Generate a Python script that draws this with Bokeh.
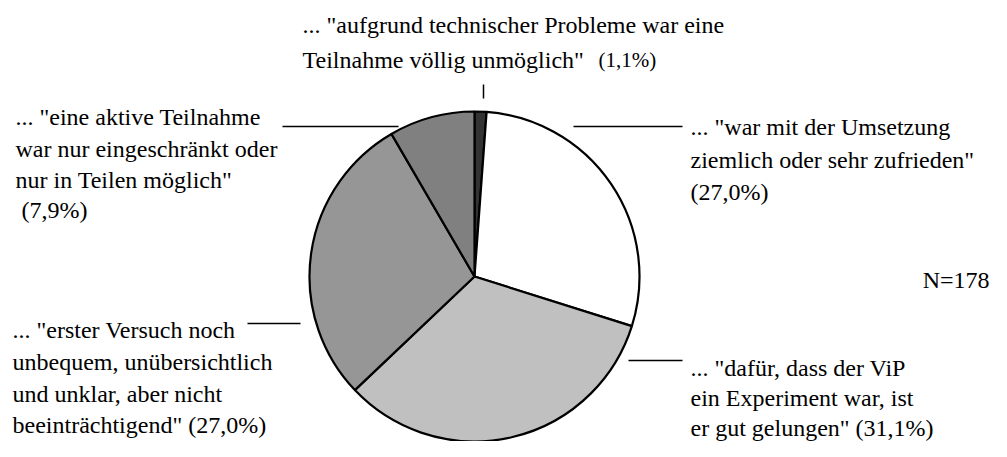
import numpy as np
from bokeh.plotting import figure
from bokeh.models import Range1d, ColumnDataSource
from bokeh.embed import file_html
from bokeh.resources import INLINE
from bokeh.core.properties import value

# ---- data ----
categories = ["unmöglich", "zufrieden", "gut gelungen", "erster Versuch", "eingeschränkt"]
values = [1.1, 27.0, 31.1, 27.0, 7.9]
colors = ["#333333", "#ffffff", "#c0c0c0", "#969696", "#808080"]

label_lines = [
    ['... "aufgrund technischer Probleme war eine', 'Teilnahme völlig unmöglich"'],
    ['... "war mit der Umsetzung', 'ziemlich oder sehr zufrieden"', '(27,0%)'],
    ['... "dafür, dass der ViP', 'ein Experiment war, ist', 'er gut gelungen" (31,1%)'],
    ['... "erster Versuch noch', 'unbequem, unübersichtlich', 'und unklar, aber nicht', 'beeinträchtigend" (27,0%)'],
    ['... "eine aktive Teilnahme', 'war nur eingeschränkt oder', 'nur in Teilen möglich"', '(7,9%)'],
]
small_pct = "(1,1%)"
n_text = "N=178"

# ---- layout (picture pixel coordinates) ----
W, H = 991, 441
TXT_SHIFT = -9  # renderer draws text baselines lower; compensate
def Y(py):
    return H - py

cx, cy, r = 474, 276, 165
label_x = [302, 690, 690, 12, 15]
line_indent = {(4, 3): 6}
label_base = [[33, 68], [135, 168, 200], [376, 406, 436], [338, 370, 402, 433], [125, 157, 188, 218]]
leader_lines = [
    ([483, 483], [84, 98]),
    ([573, 682], [126, 126]),
    ([628, 682], [360, 360]),
    ([247, 300], [323, 323]),
    ([282, 398], [126, 126]),
]

FONT = "Tinos"
FS = "24px"

p = figure(width=W, height=H, output_backend="svg", toolbar_location=None,
           x_range=Range1d(0, W), y_range=Range1d(0, H),
           min_border=0, outline_line_color=None, background_fill_color="white",
           border_fill_color="white")
p.axis.visible = False
p.grid.visible = False

vals = np.array(values, dtype=float)
frac = vals / vals.sum()
cum_after = np.cumsum(frac)
cum_before = cum_after - frac
start = np.pi / 2 - 2 * np.pi * cum_after
end = np.pi / 2 - 2 * np.pi * cum_before

src = ColumnDataSource(dict(cat=categories, val=values, color=colors,
                            start=start, end=end))
p.wedge(x=cx, y=Y(cy), radius=r, start_angle="start", end_angle="end",
        direction="anticlock", fill_color="color", line_color="black",
        line_width=2.2, source=src)

for xs, ys in leader_lines:
    p.line(xs, [Y(v) for v in ys], line_color="black", line_width=1.5)

tx, ty, tt = [], [], []
for i, (lines, x0, bases) in enumerate(zip(label_lines, label_x, label_base)):
    for j, (line, b) in enumerate(zip(lines, bases)):
        tx.append(x0 + line_indent.get((i, j), 0))
        ty.append(Y(b + TXT_SHIFT))
        tt.append(line)
p.text(x=tx, y=ty, text=tt, text_font=value(FONT), text_font_size=FS,
       text_color="black", text_align="left", text_baseline="alphabetic")

p.text(x=[598], y=[Y(68 + TXT_SHIFT)], text=[small_pct], text_font=value(FONT),
       text_font_size="21px", text_color="black", text_align="left",
       text_baseline="alphabetic")
p.text(x=[989], y=[Y(288 + TXT_SHIFT)], text=[n_text], text_font=value(FONT),
       text_font_size=FS, text_color="black", text_align="right",
       text_baseline="alphabetic")

open("out.html", "w").write(file_html(p, INLINE))
